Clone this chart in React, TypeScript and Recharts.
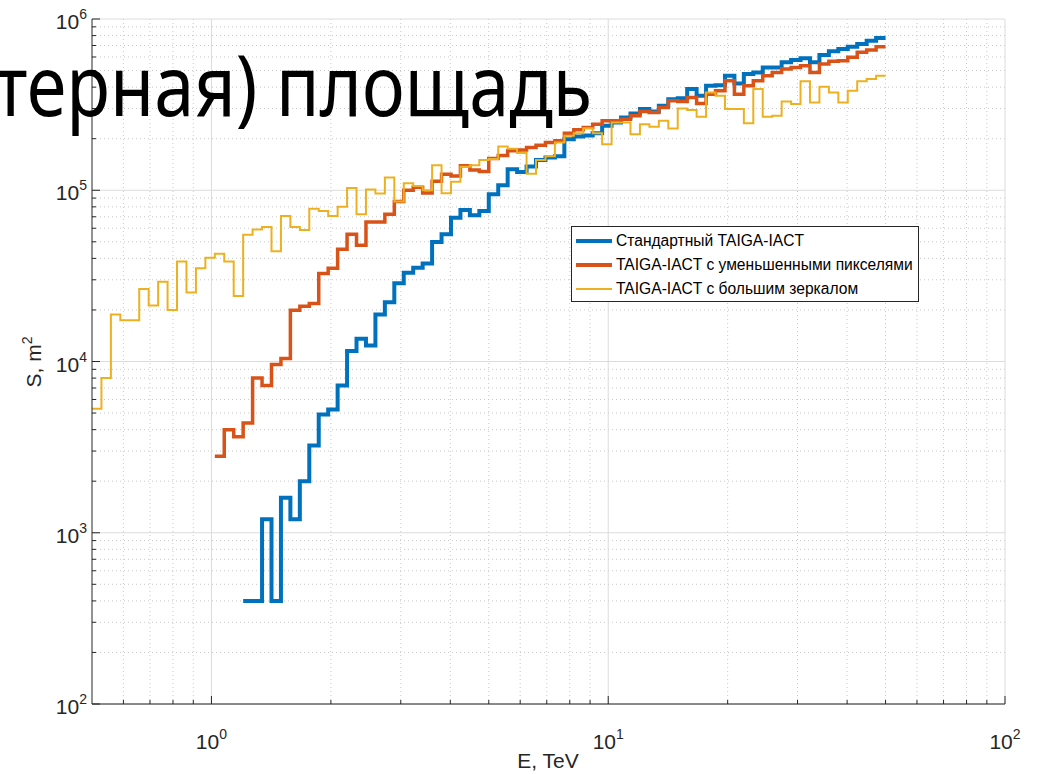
import { LineChart, Line, XAxis, YAxis, CartesianGrid } from 'recharts';

// log-spaced energy bins: 0.5 .. 50 TeV, 42 bins per decade
const E_MIN = 0.5;
const BINS_PER_DECADE = 42;
const N_BINS = 84;
const EDGES = Array.from({ length: N_BINS + 1 }, (_, i) => E_MIN * Math.pow(10, i / BINS_PER_DECADE));

// effective area, m^2, one value per bin (null = no events)
const STANDARD = [
  null, null, null, null, null, null, null, null, null, null, null, null, null, null, null, null,
  400, 400, 1200, 400, 1600, 1200, 2000, 3230, 4900, 5240, 7240, 11500, 13600, 12400, 18800, 22200,
  28600, 33000, 35300, 37400, 49900, 55300, 69200, 76700, 71400, 75700, 94800, 107000, 132700, 128000,
  137600, 150300, 155300, 158000, 198700, 206000, 209000, 215400, 237700, 248900, 266200, 281000,
  297700, 288700, 311200, 340400, 345000, 389700, 356200, 407500, 411000, 465800, 420700, 476600,
  487600, 520500, 520500, 558200, 575500, 589000, 558200, 615700, 647300, 667800, 688700, 714000,
  746400, 774100,
];

const SMALL_PIXELS = [
  null, null, null, null, null, null, null, null, null, null, null, null, null,
  2800, 4000, 3630, 4380, 8000, 7240, 9600, 10400, 19950, 21000, 21800, 32700, 35000, 45200, 55300,
  47700, 65300, 65300, 72400, 85900, 100000, 104000, 96500, 113000, 124000, 121000, 139000, 131500,
  128600, 153000, 159600, 169800, 172000, 177800, 183300, 190100, 194400, 215400, 225300, 232600,
  243200, 254300, 254300, 260200, 272400, 288700, 284000, 304600, 332700, 330200, 348300, 321200,
  364100, 380700, 435600, 364100, 407500, 435600, 465800, 487600, 510300, 520500, 533300, 487600,
  545700, 565800, 570900, 597000, 638800, 659000, 688700,
];

const BIG_MIRROR = [
  5300, 8000, 18800, 17400, 17400, 26500, 21200, 29200, 20000, 38400, 25300, 35000, 40400, 42600,
  38400, 24100, 55000, 59000, 61000, 44000, 70800, 61000, 58600, 78000, 75700, 70800, 80000, 103000,
  72400, 101000, 95700, 118600, 85900, 110000, 106000, 100000, 140000, 96000, 112000, 137000,
  140000, 150000, 152000, 180000, 175000, 165000, 125000, 150000, 158000, 190000, 208000, 215000,
  230000, 215000, 185800, 248900, 248900, 212500, 243200, 234500, 254300, 229500, 300600, 293700,
  268400, 372600, 356200, 297700, 297700, 246500, 389700, 268400, 272400, 330200, 318400, 432300,
  325700, 401800, 372600, 325700, 380700, 432300, 445800, 465800,
];

const SERIES_NAMES = [
  'Стандартный TAIGA-IACT',
  'TAIGA-IACT с уменьшенными пикселями',
  'TAIGA-IACT с большим зеркалом',
];

const X_MAJOR = [1, 10, 100];
const X_MINOR = [0.6, 0.7, 0.8, 0.9, 2, 3, 4, 5, 6, 7, 8, 9, 20, 30, 40, 50, 60, 70, 80, 90];
const Y_MAJOR = [1e2, 1e3, 1e4, 1e5, 1e6];
const Y_MINOR = [1e2, 1e3, 1e4, 1e5].flatMap((d) => [2, 3, 4, 5, 6, 7, 8, 9].map((m) => m * d));

const COLORS = ['#0072BD', '#D95319', '#EDB120'];
const WIDTHS = [4, 3.5, 2];
const AXIS = '#262626';
const FONT = '"Liberation Sans", Arial, Helvetica, sans-serif';

const last = (arr: (number | null)[]) => arr[arr.length - 1];
const data = EDGES.map((e, i) => ({
  e,
  std: i < N_BINS ? STANDARD[i] : last(STANDARD),
  small: i < N_BINS ? SMALL_PIXELS[i] : last(SMALL_PIXELS),
  big: i < N_BINS ? BIG_MIRROR[i] : last(BIG_MIRROR),
}));

function XTick(props: any) {
  const { x, y, payload } = props;
  const v = payload.value;
  const major = X_MAJOR.includes(v);
  return (
    <g>
      <line x1={x} x2={x} y1={y} y2={y - (major ? 8 : 4)} stroke={AXIS} />
      {major && (
        <text x={x} y={y + 45} textAnchor="middle" fontSize={21} fill={AXIS} fontFamily={FONT}>
          10<tspan dy={-10} fontSize={14}>{Math.round(Math.log10(v))}</tspan>
        </text>
      )}
    </g>
  );
}

function YTick(props: any) {
  const { x, y, payload } = props;
  const v = payload.value;
  const major = Y_MAJOR.includes(v);
  return (
    <g>
      <line x1={x} x2={x + (major ? 8 : 4)} y1={y} y2={y} stroke={AXIS} />
      {major && (
        <text x={x - 5} y={y + 10} textAnchor="end" fontSize={21} fill={AXIS} fontFamily={FONT}>
          10<tspan dy={-10} fontSize={14}>{Math.round(Math.log10(v))}</tspan>
        </text>
      )}
    </g>
  );
}

export default function App() {
  return (
    <div style={{ position: 'fixed', left: 0, top: 0, width: 1039, height: 774, background: '#fff' }}>
      <LineChart width={1039} height={774} data={data} margin={{ top: 19, right: 34, bottom: 0, left: 0 }}>
        <CartesianGrid
          horizontalValues={Y_MINOR}
          verticalValues={X_MINOR}
          stroke="#c8c8c8"
          strokeDasharray="1 3"
        />
        <CartesianGrid horizontalValues={Y_MAJOR} verticalValues={X_MAJOR} stroke="#dcdcdc" />
        <XAxis
          dataKey="e"
          type="number"
          scale="log"
          domain={[0.5, 100]}
          allowDataOverflow
          ticks={[...X_MINOR, ...X_MAJOR].sort((a, b) => a - b)}
          interval={0}
          tick={<XTick />}
          tickLine={false}
          tickSize={0}
          tickMargin={0}
          height={70}
          axisLine={{ stroke: AXIS }}
        />
        <YAxis
          type="number"
          scale="log"
          domain={[100, 1e6]}
          allowDataOverflow
          ticks={[...Y_MINOR, ...Y_MAJOR].sort((a, b) => a - b)}
          interval={0}
          tick={<YTick />}
          tickLine={false}
          tickSize={0}
          tickMargin={0}
          width={92}
          axisLine={{ stroke: AXIS }}
        />
        {['std', 'small', 'big'].map((k, i) => (
          <Line
            key={k}
            dataKey={k}
            type="stepAfter"
            stroke={COLORS[i]}
            strokeWidth={WIDTHS[i]}
            dot={false}
            activeDot={false}
            isAnimationActive={false}
          />
        ))}
      </LineChart>

      <svg width={1039} height={774} style={{ position: 'absolute', left: 0, top: 0, pointerEvents: 'none' }}>
        <text x={548} y={768} textAnchor="middle" fontSize={21} fill={AXIS} fontFamily={FONT}>
          E, TeV
        </text>
        <text
          x={41}
          y={362}
          textAnchor="middle"
          fontSize={21}
          fill={AXIS}
          fontFamily={FONT}
          transform="rotate(-90 41 362)"
        >
          S, m<tspan dy={-9} fontSize={14}>2</tspan>
        </text>
        <text
          x={-6}
          y={116}
          fontSize={84}
          fill="#000"
          fontFamily='"Noto Sans", "Open Sans", sans-serif'
          textLength={598}
          lengthAdjust="spacingAndGlyphs"
        >
          терная) площадь
        </text>
      </svg>

      <div
        style={{
          position: 'absolute',
          left: 571,
          top: 226,
          width: 348,
          height: 76,
          border: `1px solid ${AXIS}`,
          background: '#fff',
          fontFamily: FONT,
          fontSize: 15.6,
          color: '#000',
          boxSizing: 'border-box',
          padding: '2px 0 0 4px',
          whiteSpace: 'nowrap',
        }}
      >
        {SERIES_NAMES.map((name, i) => (
          <div key={name} style={{ display: 'flex', alignItems: 'center', height: 24 }}>
            <div style={{ width: 36, height: WIDTHS[i], background: COLORS[i], marginRight: 4, flexShrink: 0 }} />
            <span>{name}</span>
          </div>
        ))}
      </div>
    </div>
  );
}
